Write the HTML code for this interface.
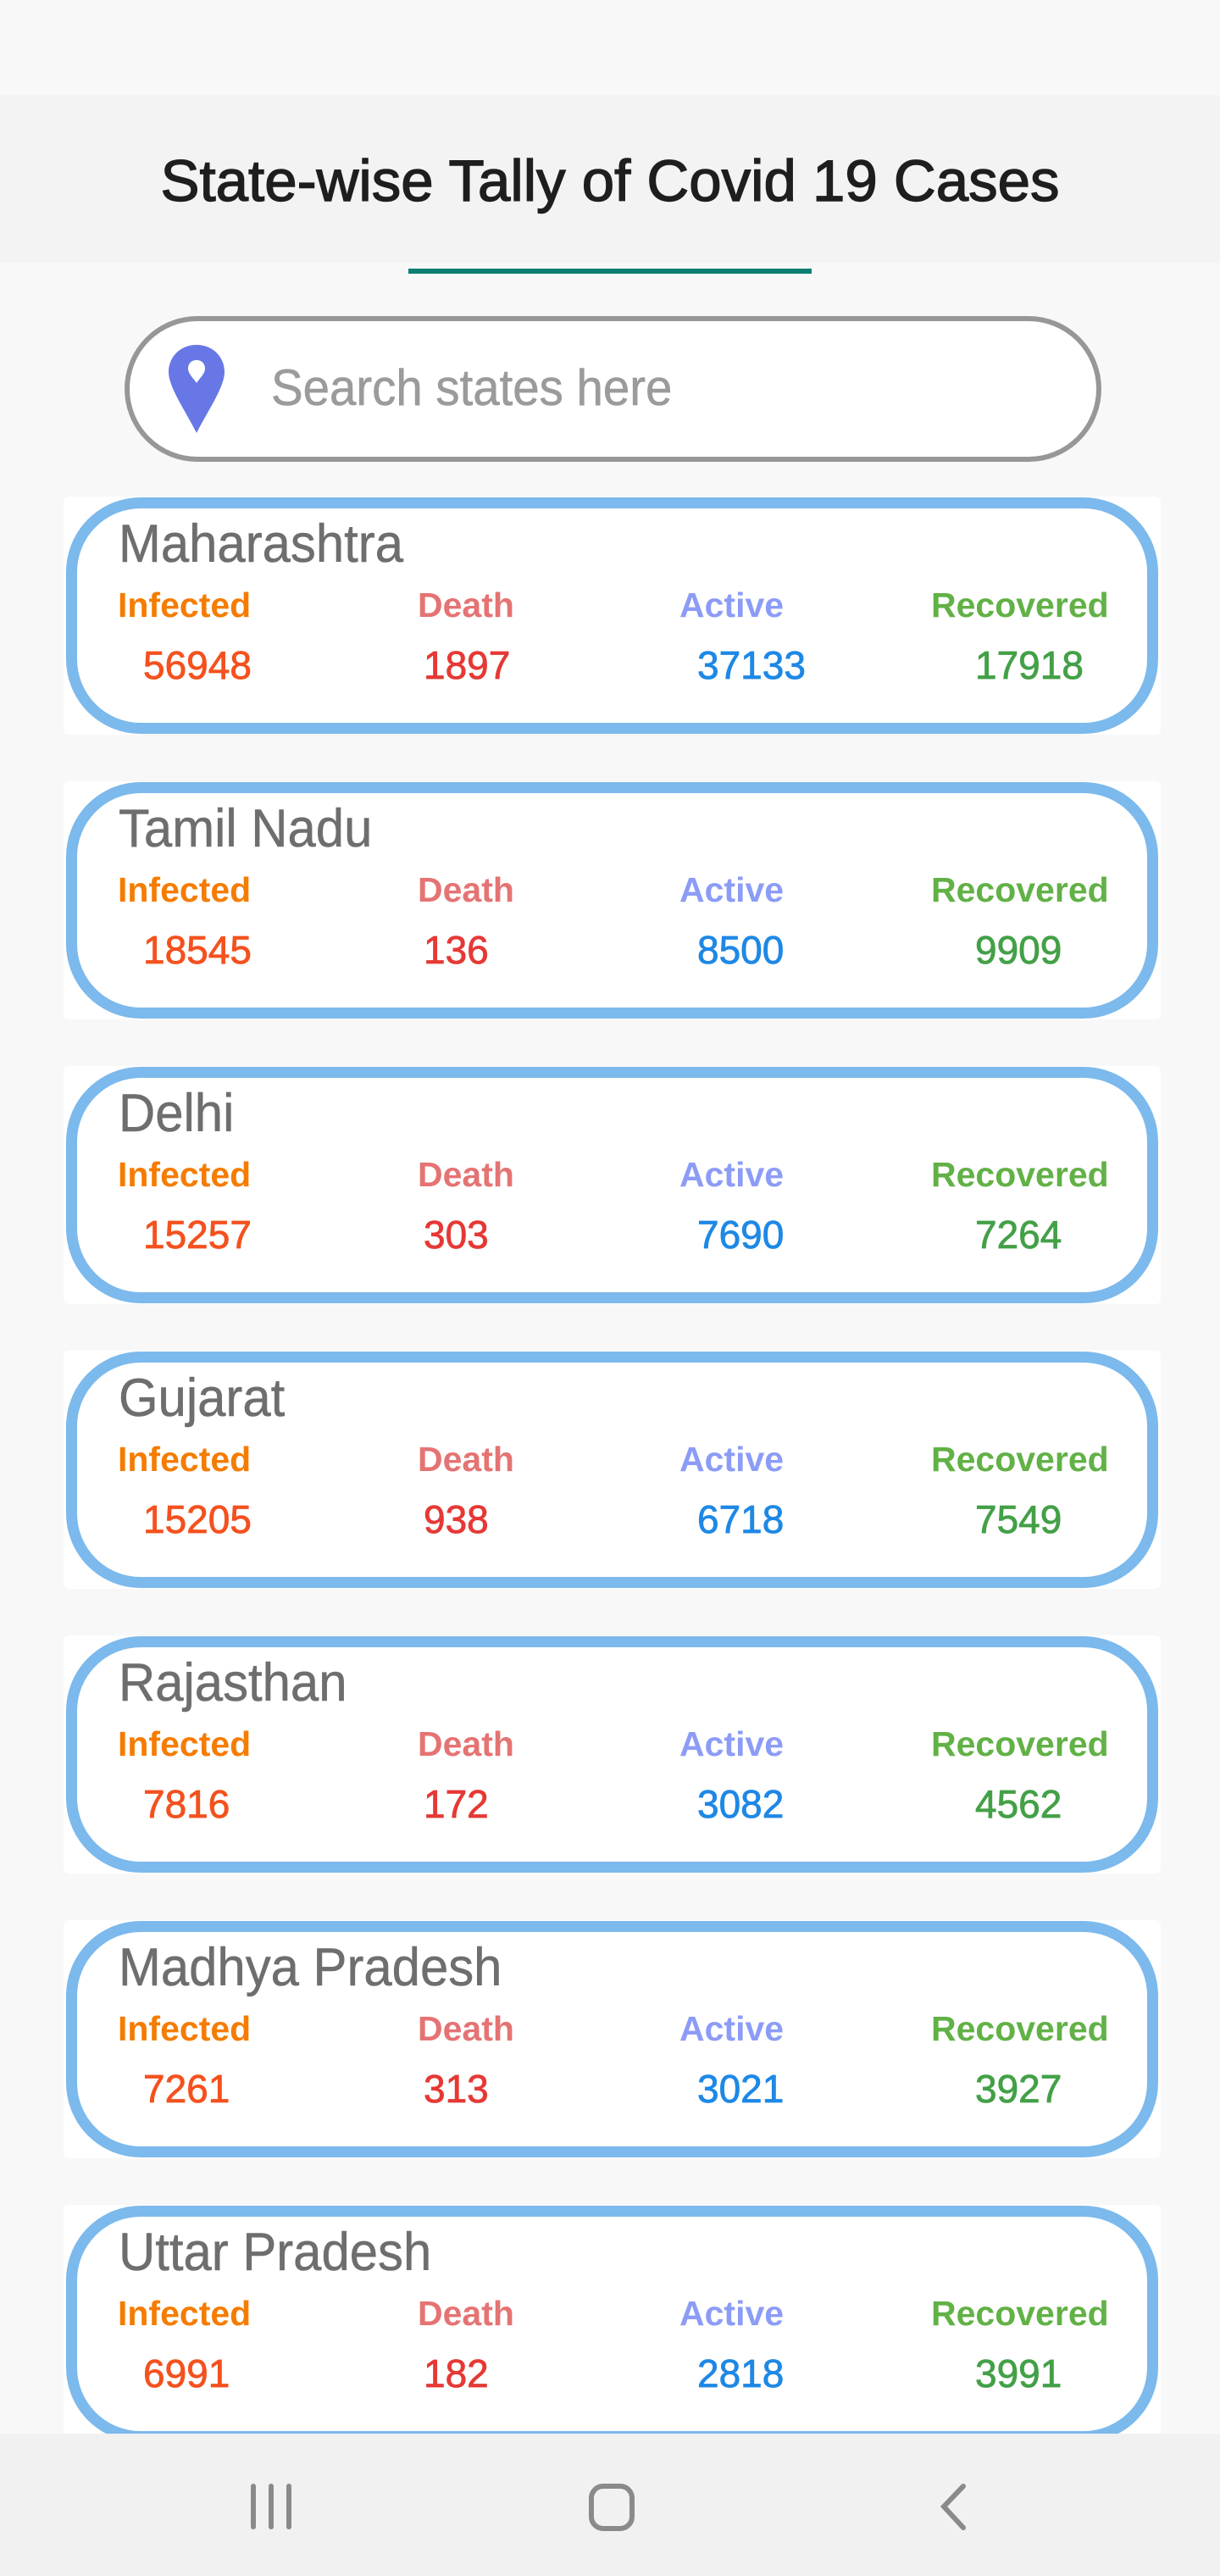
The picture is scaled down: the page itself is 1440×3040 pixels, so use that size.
<!DOCTYPE html>
<html><head><meta charset="utf-8">
<style>
html,body{margin:0;padding:0}
body{width:1440px;height:3040px;background:#f8f8f8;position:relative;overflow:hidden;font-family:"Liberation Sans",sans-serif}
.abs{position:absolute}
#status{left:0;top:0;width:1440px;height:112px;background:#f8f8f8}
#header{left:0;top:112px;width:1440px;height:198px;background:#f3f3f3}
#title{left:0;top:179px;width:1440px;text-align:center;font-size:69px;line-height:69px;color:#1e1e1e;-webkit-text-stroke:1.4px #1e1e1e}
#tab{left:482px;top:317px;width:476px;height:6px;background:#0d7f71}
#search{left:147px;top:373px;width:1153px;height:172px;box-sizing:border-box;border:6px solid #979797;border-radius:90px;background:#fff}
#pin{left:197px;top:405px}
#ph{left:320px;top:428px;font-size:60px;line-height:60px;color:#9b9b9b;-webkit-text-stroke:0.6px #9b9b9b;transform:scaleX(0.94);transform-origin:left}
.card{position:absolute;left:75px;width:1295px;height:281px;background:#fff;border-radius:6px}
.ring{position:absolute;left:3px;top:1px;right:3px;bottom:1px;border:13px solid #7cb9ec;border-radius:88px}
.name{position:absolute;left:65px;top:25px;font-size:63px;line-height:63px;color:#6e6e6e;-webkit-text-stroke:0.5px #6e6e6e;transform:scaleX(0.95);transform-origin:left}
.lbl{position:absolute;top:108px;font-size:41px;line-height:41px;font-weight:bold}
.val{position:absolute;top:176px;font-size:46px;line-height:46px;-webkit-text-stroke:0.8px currentColor}
#nav{left:0;top:2872px;width:1440px;height:168px;background:#f1f1f1}
</style></head>
<body>
<div class="abs" id="status"></div>
<div class="abs" id="header"></div>
<div class="abs" id="title">State-wise Tally of Covid 19 Cases</div>
<div class="abs" id="tab"></div>
<div class="abs" id="search"></div>
<svg class="abs" id="pin" width="70" height="108" viewBox="0 0 70 108">
<path d="M35 2 C15 2 2 17 2 34 C2 52 22 80 35 106 C48 80 68 52 68 34 C68 17 55 2 35 2 Z" fill="#6877e6"/>
<path d="M35 20 C28 20 25 25 25 30 C25 36 31 41 35 47 C39 41 45 36 45 30 C45 25 42 20 35 20 Z" fill="#fff"/>
</svg>
<div class="abs" id="ph">Search states here</div>
<div id="cards"></div>
<div class="abs" id="nav">
<svg width="1440" height="168" style="position:absolute;left:0;top:0">
<g stroke="#8a8a8a" stroke-width="6" stroke-linecap="round" fill="none">
<g><line x1="299" y1="62" x2="299" y2="110"/><line x1="320" y1="62" x2="320" y2="110"/><line x1="341" y1="62" x2="341" y2="110"/></g>
<rect x="698" y="62" width="48" height="50" rx="14"/>
<polyline points="1137,62 1114,86 1137,111"/>
</g></svg>
</div>
<script>
var states=["Maharashtra","Tamil Nadu","Delhi","Gujarat","Rajasthan","Madhya Pradesh","Uttar Pradesh"];
var infected=[56948,18545,15257,15205,7816,7261,6991];
var deaths=[1897,136,303,938,172,313,182];
var active=[37133,8500,7690,6718,3082,3021,2818];
var recovered=[17918,9909,7264,7549,4562,3927,3991];
var labels=["Infected","Death","Active","Recovered"];
var labelColors=["#f57c00","#e57373","#8c9cf6","#62b146"];
var valueColors=["#f4511e","#e53935","#1e88e5","#43a047"];
var labelX=[64,418,727,1024];
var valueX=[94,425,748,1076];
var wrap=document.getElementById('cards');
for(var i=0;i<states.length;i++){
  var c=document.createElement('div');
  c.className='card';
  c.style.top=(586+i*336)+'px';
  
  
  var r=document.createElement('div');r.className='ring';
  
  
  c.appendChild(r);
  var n=document.createElement('div');n.className='name';n.textContent=states[i];
  
  
  c.appendChild(n);
  var vals=[infected[i],deaths[i],active[i],recovered[i]];
  for(var k=0;k<4;k++){
    var l=document.createElement('div');l.className='lbl';
    l.style.left=labelX[k]+'px';l.style.color=labelColors[k];l.textContent=labels[k];
    
    
    c.appendChild(l);
    var v=document.createElement('div');v.className='val';
    v.style.left=valueX[k]+'px';v.style.color=valueColors[k];v.textContent=vals[k];
    
    
    c.appendChild(v);
  }
  wrap.appendChild(c);
}
</script>
</body></html>
